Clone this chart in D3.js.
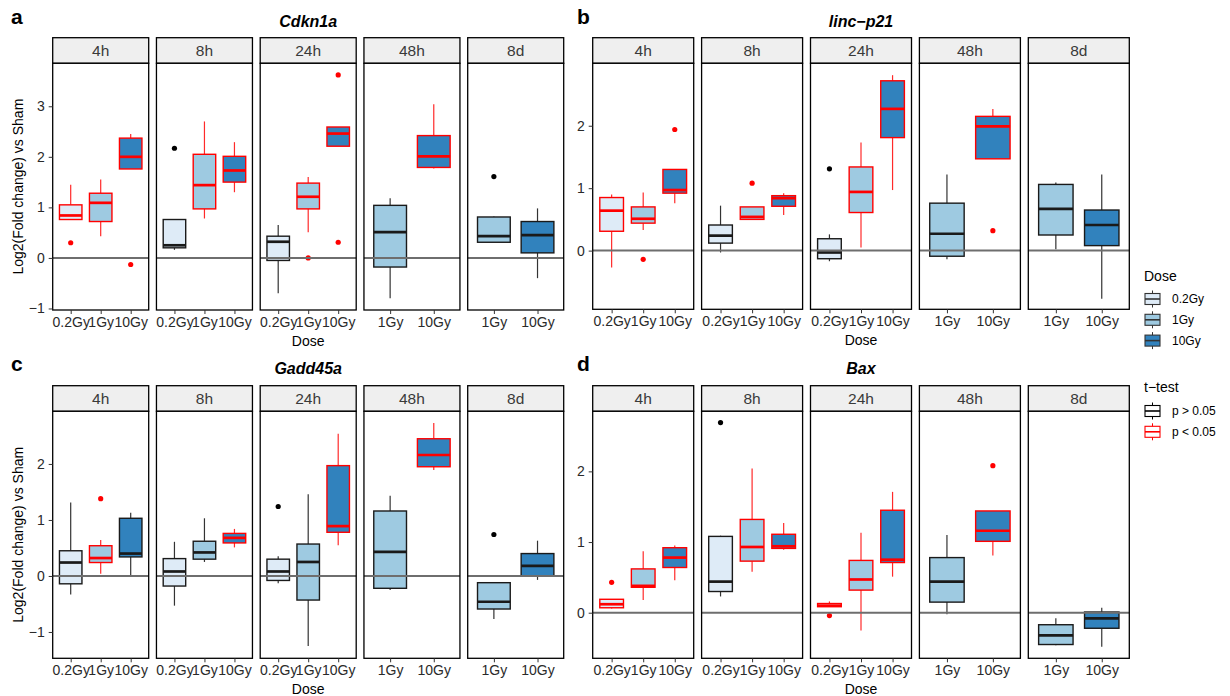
<!DOCTYPE html>
<html>
<head>
<meta charset="utf-8">
<script src="https://cdn.jsdelivr.net/npm/d3@7/dist/d3.min.js"></script>
<style>
  html, body { margin: 0; padding: 0; background: #fff; }
  svg { display: block; font-family: "Liberation Sans", Arial, Helvetica, sans-serif; }
</style>
</head>
<body>
<svg id="chart" width="1230" height="696"></svg>
<script>
// ---------------- DATA ----------------
const timePoints = ["4h", "8h", "24h", "48h", "8d"];
const dosesEarly = ["0.2Gy", "1Gy", "10Gy"];
const dosesLate = ["1Gy", "10Gy"];
const doseLevels = ["0.2Gy", "1Gy", "10Gy"];
const doseFills = ["#DEEBF7", "#9ECAE1", "#3182BD"];
const testLabels = ["p > 0.05", "p < 0.05"];
const testColors = ["#000000", "#FF0000"];
const geneNames = ["Cdkn1a", "linc\u2212p21", "Gadd45a", "Bax"];
const panelLetters = ["a", "b", "c", "d"];
const ticksA = [-1, 0, 1, 2, 3];
const ticksB = [0, 1, 2];
const ticksC = [-1, 0, 1, 2];
const ticksD = [0, 1, 2];

// row: time, dose, lowerWhisker, q1, median, q3, upperWhisker, significant(1=p<0.05), outliers
const cdkn1a = [
  ["4h", "0.2Gy", 0.76, 0.76, 0.84, 1.05, 1.45, 1, [0.30]],
  ["4h", "1Gy", 0.43, 0.72, 1.09, 1.28, 1.55, 1, []],
  ["4h", "10Gy", 1.76, 1.76, 2.00, 2.37, 2.45, 1, [-0.13]],
  ["8h", "0.2Gy", 0.16, 0.20, 0.25, 0.76, 0.77, 0, [2.17]],
  ["8h", "1Gy", 0.78, 0.97, 1.44, 2.05, 2.70, 1, []],
  ["8h", "10Gy", 1.30, 1.50, 1.73, 2.01, 2.29, 1, []],
  ["24h", "0.2Gy", -0.70, -0.05, 0.32, 0.43, 0.65, 0, []],
  ["24h", "1Gy", 0.51, 0.97, 1.21, 1.48, 1.60, 1, [0.0]],
  ["24h", "10Gy", 2.21, 2.21, 2.46, 2.59, 2.59, 1, [3.62, 0.31]],
  ["48h", "1Gy", -0.80, -0.18, 0.51, 1.04, 1.18, 0, []],
  ["48h", "10Gy", 1.77, 1.79, 2.01, 2.42, 3.04, 1, []],
  ["8d", "1Gy", 0.31, 0.31, 0.43, 0.81, 0.82, 0, [1.61]],
  ["8d", "10Gy", -0.40, 0.10, 0.45, 0.72, 0.98, 0, []]
];
const lincp21 = [
  ["4h", "0.2Gy", -0.27, 0.31, 0.64, 0.85, 0.90, 1, []],
  ["4h", "1Gy", 0.33, 0.44, 0.51, 0.70, 0.93, 1, [-0.14]],
  ["4h", "10Gy", 0.76, 0.92, 0.97, 1.30, 1.30, 1, [1.94]],
  ["8h", "0.2Gy", -0.03, 0.12, 0.24, 0.41, 0.72, 0, []],
  ["8h", "1Gy", 0.49, 0.50, 0.54, 0.70, 0.70, 1, [1.08]],
  ["8h", "10Gy", 0.57, 0.71, 0.84, 0.88, 0.92, 1, []],
  ["24h", "0.2Gy", -0.17, -0.13, -0.03, 0.19, 0.26, 0, [1.31]],
  ["24h", "1Gy", 0.05, 0.61, 0.94, 1.34, 1.73, 1, []],
  ["24h", "10Gy", 0.97, 1.81, 2.27, 2.72, 2.81, 1, []],
  ["48h", "1Gy", -0.14, -0.09, 0.27, 0.76, 1.22, 0, []],
  ["48h", "10Gy", 1.47, 1.47, 1.99, 2.15, 2.27, 1, [0.32]],
  ["8d", "1Gy", 0.02, 0.25, 0.67, 1.06, 1.09, 0, []],
  ["8d", "10Gy", -0.77, 0.08, 0.41, 0.65, 1.22, 0, []]
];
const gadd45a = [
  ["4h", "0.2Gy", -0.33, -0.14, 0.24, 0.45, 1.31, 0, []],
  ["4h", "1Gy", 0.04, 0.24, 0.32, 0.54, 0.64, 1, [1.38]],
  ["4h", "10Gy", 0.0, 0.34, 0.40, 1.03, 1.13, 0, []],
  ["8h", "0.2Gy", -0.53, -0.18, 0.08, 0.31, 0.61, 0, []],
  ["8h", "1Gy", 0.25, 0.30, 0.42, 0.62, 1.03, 0, []],
  ["8h", "10Gy", 0.51, 0.59, 0.68, 0.76, 0.84, 1, []],
  ["24h", "0.2Gy", -0.13, -0.08, 0.08, 0.30, 0.35, 0, [1.24]],
  ["24h", "1Gy", -1.25, -0.43, 0.25, 0.57, 1.46, 0, []],
  ["24h", "10Gy", 0.55, 0.78, 0.89, 1.97, 2.54, 1, []],
  ["48h", "1Gy", -0.25, -0.22, 0.43, 1.16, 1.43, 0, []],
  ["48h", "10Gy", 1.89, 1.95, 2.16, 2.45, 2.73, 1, []],
  ["8d", "1Gy", -0.77, -0.59, -0.46, -0.12, -0.11, 0, [0.74]],
  ["8d", "10Gy", -0.07, 0.0, 0.18, 0.40, 0.63, 0, []]
];
const bax = [
  ["4h", "0.2Gy", 0.06, 0.07, 0.12, 0.19, 0.19, 1, [0.43]],
  ["4h", "1Gy", 0.18, 0.36, 0.38, 0.62, 0.87, 1, []],
  ["4h", "10Gy", 0.46, 0.64, 0.78, 0.92, 0.95, 1, []],
  ["8h", "0.2Gy", 0.23, 0.30, 0.44, 1.08, 1.09, 0, [2.69]],
  ["8h", "1Gy", 0.58, 0.73, 0.93, 1.32, 2.04, 1, []],
  ["8h", "10Gy", 0.89, 0.91, 0.94, 1.11, 1.27, 1, []],
  ["24h", "0.2Gy", 0.085, 0.085, 0.10, 0.13, 0.16, 1, [-0.04]],
  ["24h", "1Gy", -0.25, 0.32, 0.47, 0.74, 1.13, 1, []],
  ["24h", "10Gy", 0.51, 0.71, 0.75, 1.45, 1.71, 1, []],
  ["48h", "1Gy", -0.02, 0.15, 0.44, 0.78, 1.10, 0, []],
  ["48h", "10Gy", 0.81, 1.01, 1.16, 1.44, 1.44, 1, [2.08]],
  ["8d", "1Gy", -0.46, -0.45, -0.32, -0.17, -0.08, 0, []],
  ["8d", "10Gy", -0.48, -0.22, -0.08, 0.01, 0.07, 0, []]
];

// ---------------- LAYOUT ----------------
const svg = d3.select("#chart");
const fillScale = d3.scaleOrdinal().domain(doseLevels).range(doseFills);
const FONT_TICK = 14, FONT_STRIP = 15.5, FONT_TITLE = 14;
const FF = "'Liberation Sans', Arial, Helvetica, sans-serif";

const panels = [
  { data: cdkn1a, ticks: ticksA, domain: [-1.03, 3.85], x0: 52.7, fw: 96, step: 103.75, top: 37.7, plotTop: 63.3, bottom: 310, yTitle: true, letterX: 11, titleY: 27 },
  { data: lincp21, ticks: ticksB, domain: [-0.94, 3.0], x0: 592.7, fw: 101, step: 108.9, top: 37.7, plotTop: 63.3, bottom: 309.3, yTitle: false, letterX: 577, titleY: 27 },
  { data: gadd45a, ticks: ticksC, domain: [-1.47, 2.94], x0: 52.7, fw: 96, step: 103.75, top: 385.7, plotTop: 411.3, bottom: 658.3, yTitle: true, letterX: 11, titleY: 374 },
  { data: bax, ticks: ticksD, domain: [-0.645, 2.85], x0: 592.7, fw: 101, step: 108.9, top: 385.7, plotTop: 411.3, bottom: 658.3, yTitle: false, letterX: 577, titleY: 374 }
];

panels.forEach((p, pi) => {
  const g = svg.append("g");
  const y = d3.scaleLinear().domain(p.domain).range([p.bottom, p.plotTop]);
  const totalRight = p.x0 + (timePoints.length - 1) * p.step + p.fw;
  const centerX = (p.x0 + totalRight) / 2;

  // letter + gene title
  g.append("text").attr("x", p.letterX).attr("y", p.titleY - 3)
    .attr("font-size", 21).attr("font-weight", "bold").attr("fill", "#000").text(panelLetters[pi]);
  g.append("text").attr("x", centerX).attr("y", p.titleY)
    .attr("text-anchor", "middle").attr("font-size", 16).attr("font-weight", "bold")
    .attr("font-style", "italic").attr("fill", "#000").text(geneNames[pi]);

  timePoints.forEach((t, ti) => {
    const fx = p.x0 + ti * p.step;
    const doses = ti < 3 ? dosesEarly : dosesLate;
    const x = d3.scalePoint().domain(doses).range([fx, fx + p.fw]).padding(0.6);
    const bw = x.step() * 0.75;
    const fg = g.append("g");

    // strip
    fg.append("rect").attr("x", fx).attr("y", p.top).attr("width", p.fw).attr("height", p.plotTop - p.top)
      .attr("fill", "#EFEFEF").attr("stroke", "#000").attr("stroke-width", 1.3);
    fg.append("text").attr("x", fx + p.fw / 2).attr("y", (p.top + p.plotTop) / 2)
      .attr("text-anchor", "middle").attr("dominant-baseline", "central")
      .attr("font-size", FONT_STRIP).attr("fill", "#3A3A3A").text(t);

    // panel background
    fg.append("rect").attr("x", fx).attr("y", p.plotTop).attr("width", p.fw).attr("height", p.bottom - p.plotTop)
      .attr("fill", "#fff");

    // boxes
    const rows = p.data.filter(r => r[0] === t);
    const bg = fg.selectAll("g.box").data(rows).join("g").attr("class", "box");
    bg.each(function (r) {
      const s = d3.select(this);
      const cx = x(r[1]);
      const col = r[7] ? "#FF0000" : "#1A1A1A";
      const wcol = r[7] ? "#FF2A2A" : "#333";
      s.append("line").attr("x1", cx).attr("x2", cx).attr("y1", y(r[6])).attr("y2", y(r[5]))
        .attr("stroke", wcol).attr("stroke-width", 1.2);
      s.append("line").attr("x1", cx).attr("x2", cx).attr("y1", y(r[3])).attr("y2", y(r[2]))
        .attr("stroke", wcol).attr("stroke-width", 1.2);
      s.append("rect").attr("x", cx - bw / 2).attr("y", y(r[5])).attr("width", bw)
        .attr("height", Math.max(0.5, y(r[3]) - y(r[5])))
        .attr("fill", fillScale(r[1])).attr("stroke", col).attr("stroke-width", 1.4);
      s.append("line").attr("x1", cx - bw / 2).attr("x2", cx + bw / 2).attr("y1", y(r[4])).attr("y2", y(r[4]))
        .attr("stroke", col).attr("stroke-width", 2.7);
      s.selectAll("circle").data(r[8]).join("circle")
        .attr("cx", cx).attr("cy", d => y(d)).attr("r", 2.6).attr("fill", r[7] ? "#FF0000" : "#000");
    });

    // zero line
    fg.append("line").attr("x1", fx).attr("x2", fx + p.fw).attr("y1", y(0)).attr("y2", y(0))
      .attr("stroke", "#6E6E6E").attr("stroke-width", 2);

    // panel border
    fg.append("rect").attr("x", fx).attr("y", p.plotTop).attr("width", p.fw).attr("height", p.bottom - p.plotTop)
      .attr("fill", "none").attr("stroke", "#000").attr("stroke-width", 1.3);

    // x axis
    const xa = fg.append("g").attr("transform", `translate(0,${p.bottom})`)
      .call(d3.axisBottom(x).tickSize(4).tickPadding(3));
    xa.select(".domain").remove();
    xa.selectAll(".tick line").attr("stroke", "#333").attr("stroke-width", 1);
    xa.selectAll(".tick text").attr("font-size", FONT_TICK).attr("fill", "#2A2A2A").attr("font-family", FF);

    // y axis on first facet
    if (ti === 0) {
      const ya = fg.append("g").attr("transform", `translate(${fx},0)`)
        .call(d3.axisLeft(y).tickValues(p.ticks).tickSize(4).tickPadding(4).tickFormat(d => d < 0 ? "\u2212" + Math.abs(d) : d));
      ya.select(".domain").remove();
      ya.selectAll(".tick line").attr("stroke", "#333").attr("stroke-width", 1);
      ya.selectAll(".tick text").attr("font-size", FONT_TICK).attr("fill", "#2A2A2A").attr("font-family", FF);
    }
  });

  // axis titles
  g.append("text").attr("x", centerX).attr("y", p.bottom + 36)
    .attr("text-anchor", "middle").attr("font-size", FONT_TITLE).attr("fill", "#000").text("Dose");
  if (p.yTitle) {
    const cy = (p.plotTop + p.bottom) / 2;
    g.append("text").attr("transform", `translate(23,${cy}) rotate(-90)`)
      .attr("text-anchor", "middle").attr("font-size", FONT_TITLE).attr("fill", "#000")
      .text("Log2(Fold change) vs Sham");
  }
});

// ---------------- LEGENDS ----------------
function legendKey(gk, cy, fill, stroke) {
  const kx = 1145, kw = 15;
  gk.append("line").attr("x1", kx + kw / 2).attr("x2", kx + kw / 2).attr("y1", cy - 8.5).attr("y2", cy + 8.5)
    .attr("stroke", stroke).attr("stroke-width", 1);
  gk.append("rect").attr("x", kx).attr("y", cy - 5.5).attr("width", kw).attr("height", 11)
    .attr("fill", fill).attr("stroke", stroke).attr("stroke-width", 1.1);
  gk.append("line").attr("x1", kx).attr("x2", kx + kw).attr("y1", cy).attr("y2", cy)
    .attr("stroke", stroke).attr("stroke-width", 1.6);
}
const lg = svg.append("g");
lg.append("text").attr("x", 1144).attr("y", 281).attr("font-size", 14).attr("fill", "#000").text("Dose");
doseLevels.forEach((d, i) => {
  const cy = 299 + i * 20.8;
  legendKey(lg, cy, fillScale(d), "#333");
  lg.append("text").attr("x", 1172).attr("y", cy).attr("dominant-baseline", "central")
    .attr("font-size", 12).attr("fill", "#000").text(d);
});
lg.append("text").attr("x", 1144).attr("y", 392).attr("font-size", 14).attr("fill", "#000").text("t\u2212test");
testLabels.forEach((d, i) => {
  const cy = 411 + i * 20.8;
  legendKey(lg, cy, "#fff", testColors[i]);
  lg.append("text").attr("x", 1172).attr("y", cy).attr("dominant-baseline", "central")
    .attr("font-size", 12).attr("fill", "#000").text(d);
});
</script>
</body>
</html>
